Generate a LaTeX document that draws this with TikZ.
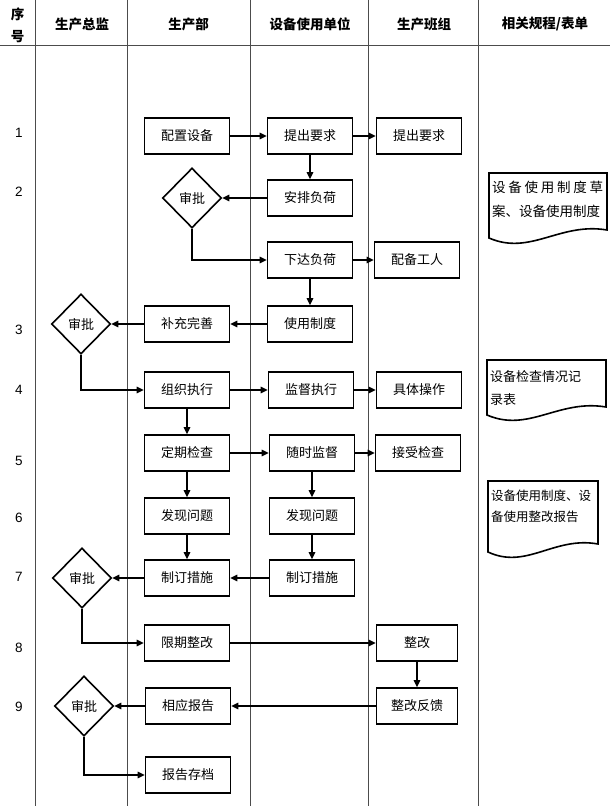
\documentclass[tikz,border=0pt]{standalone}
\usepackage{fontspec}
\setmainfont{Noto Sans CJK SC}
\newfontfamily\numfont{Liberation Sans}
\usetikzlibrary{arrows.meta,shapes.geometric,positioning}
\tikzset{
  box/.style={draw, line width=1.6pt, minimum width=85pt, minimum height=36pt,
    inner sep=2pt, font=\fontsize{13}{15}\selectfont},
  shen/.style={draw, diamond, line width=1.6pt, minimum width=59pt,
    minimum height=60pt, inner sep=0pt, font=\fontsize{13}{15}\selectfont},
  arr/.style={line width=1.3pt, -{Triangle[length=7pt,width=6.5pt]}},
  lane/.style={line width=1pt, black!70},
  head/.style={font=\bfseries\fontsize{13.5}{22}\selectfont, align=center},
  rownum/.style={font=\numfont\fontsize{13.5}{15}\selectfont},
  doctext/.style={anchor=north west, align=left, inner sep=0pt,
    font=\fontsize{13}{23}\selectfont},
  docline/.style={line width=1.6pt}
}
% document shape: left, top, right, bottom at the left side
\newcommand\wavedoc[4]{%
  \draw[docline] (#1,#2) -- (#3,#2) -- (#3,#4-8)
    .. controls (#3-0.4*#3+0.4*#1,#4-16) and (#1+0.35*#3-0.35*#1,#4+18) .. (#1,#4)
    -- cycle;}
\begin{document}
\begin{tikzpicture}[x=1pt,y=-1pt]
    \useasboundingbox (0,0) rectangle (610,806);
    % lanes
    \foreach \x in {35,127,250,368,478}
      \draw[lane] (\x,0) -- (\x,806);
    \draw[lane] (0,45) -- (610,45);
    \node[head] (hxh) at (17.5,25) {序\\号};
    \node[head] (hzj) at (82,24) {生产总监};
    \node[head] (hscb) at (188.5,24) {生产部};
    \node[head] (hsy) at (310,24) {设备使用单位};
    \node[head] (hbz) at (424,24) {生产班组};
    \node[head] (hgc) at (545,24) {相关规程/表单};
    \foreach \n/\y in {1/133,2/192,3/330,4/390,5/461,6/518,7/577,8/648,9/707}
      \node[rownum] (row\n) at (19,\y) {\n};
    % steps
    \node[box] (pzsb) at (187,136) {配置设备};
      \node[box, right of=pzsb, node distance=123pt] (tcyq) {提出要求};
      \node[box, right of=tcyq, node distance=109pt] (tcyq2) {提出要求};
      \node[box, below of=tcyq, node distance=62pt] (apfh) {安排负荷};
      \node[shen, left of=apfh, node distance=118pt] (sp1) {审批};
      \node[box, below of=apfh, node distance=62pt] (xdfh) {下达负荷};
      \node[box, right of=xdfh, node distance=107pt] (pbgr) {配备工人};
      \node[box, below of=xdfh, node distance=64pt] (syzd) {使用制度};
      \node[box, left of=syzd, node distance=123pt] (bcws) {补充完善};
      \node[shen, left of=bcws, node distance=106pt] (sp2) {审批};
      \node[box, below of=bcws, node distance=66pt] (zzzx) {组织执行};
      \node[box, right of=zzzx, node distance=124pt] (jdzx) {监督执行};
      \node[box, right of=jdzx, node distance=108pt] (jtcz) {具体操作};
      \node[box, below of=zzzx, node distance=63pt] (dqjc) {定期检查};
      \node[box, right of=dqjc, node distance=125pt] (ssjd) {随时监督};
      \node[box, right of=ssjd, node distance=106pt] (jsjc) {接受检查};
      \node[box, below of=dqjc, node distance=63pt] (fxwt) {发现问题};
      \node[box, below of=ssjd, node distance=63pt] (fxwt2) {发现问题};
      \node[box, below of=fxwt, node distance=62pt] (zdcs) {制订措施};
      \node[box, below of=fxwt2, node distance=62pt] (zdcs2) {制订措施};
      \node[shen, left of=zdcs, node distance=105pt] (sp3) {审批};
      \node[box, below of=zdcs, node distance=65pt] (xqzg) {限期整改};
      \node[box, right of=xqzg, node distance=230pt, minimum width=81pt] (zg) {整改};
      \node[box, below of=zg, node distance=63pt, minimum width=81pt] (zgfk) {整改反馈};
      \node[box, left of=zgfk, node distance=229pt] (xybg) {相应报告};
      \node[shen, left of=xybg, node distance=104pt] (sp4) {审批};
      \node[box, below of=xybg, node distance=69pt] (bgcd) {报告存档};
    % documents
    \wavedoc{489}{173}{607}{238}
    \node[doctext, font=\fontsize{13.5}{24}\selectfont] (doc1) at (492,181)
      {\makebox[111pt][s]{设\hfill 备\hfill 使\hfill 用\hfill 制\hfill 度\hfill 草}\\案、设备使用制度};
    \wavedoc{487}{360}{606}{415}
    \node[doctext] (doc2) at (490,370) {设备检查情况记\\录表};
    \wavedoc{488}{481}{598}{552}
    \node[doctext, font=\fontsize{12.5}{21}\selectfont] (doc3) at (491,490)
      {设备使用制度、设\\备使用整改报告};
    % links
    \draw[arr] (pzsb) -- (tcyq);
    \draw[arr] (tcyq) -- (tcyq2);
    \draw[arr] (tcyq) -- (apfh);
    \draw[arr] (apfh) -- (sp1);
    \draw[arr] (sp1) |- (xdfh);
    \draw[arr] (xdfh) -- (pbgr);
    \draw[arr] (xdfh) -- (syzd);
    \draw[arr] (syzd) -- (bcws);
    \draw[arr] (bcws) -- (sp2);
    \draw[arr] (sp2) |- (zzzx);
    \draw[arr] (zzzx) -- (jdzx);
    \draw[arr] (jdzx) -- (jtcz);
    \draw[arr] (zzzx) -- (dqjc);
    \draw[arr] (dqjc) -- (ssjd);
    \draw[arr] (ssjd) -- (jsjc);
    \draw[arr] (dqjc) -- (fxwt);
    \draw[arr] (ssjd) -- (fxwt2);
    \draw[arr] (fxwt) -- (zdcs);
    \draw[arr] (fxwt2) -- (zdcs2);
    \draw[arr] (zdcs2) -- (zdcs);
    \draw[arr] (zdcs) -- (sp3);
    \draw[arr] (sp3) |- (xqzg);
    \draw[arr] (xqzg) -- (zg);
    \draw[arr] (zg) -- (zgfk);
    \draw[arr] (zgfk) -- (xybg);
    \draw[arr] (xybg) -- (sp4);
    \draw[arr] (sp4) |- (bgcd);
\end{tikzpicture}
\end{document}
